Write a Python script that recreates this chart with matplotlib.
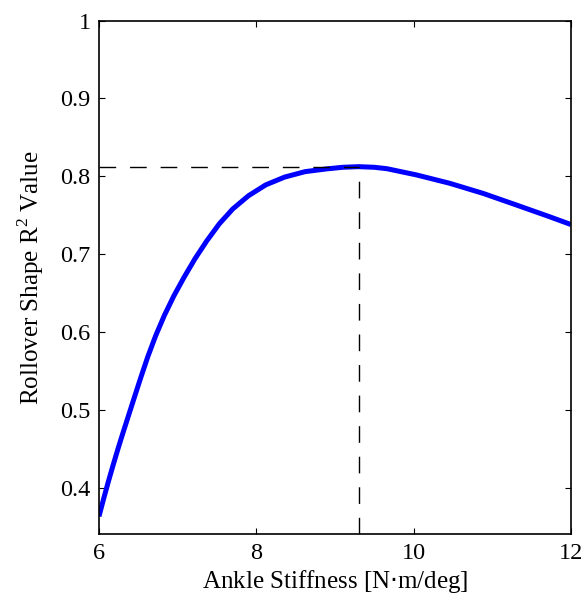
import matplotlib
matplotlib.use('Agg')
import matplotlib.pyplot as plt

# values
stiffness = [6.00, 6.06, 6.12, 6.18, 6.245, 6.31, 6.38, 6.45, 6.53, 6.62, 6.72, 6.83,
             6.95, 7.08, 7.22, 7.37, 7.53, 7.70, 7.90, 8.12, 8.36, 8.62, 8.90, 9.10,
             9.30, 9.50, 9.66, 10.04, 10.46, 10.885, 11.31, 11.73, 12.00]
r2_value = [0.363, 0.386, 0.408, 0.429, 0.451, 0.472, 0.494, 0.516, 0.541, 0.568, 0.595, 0.621,
            0.646, 0.670, 0.694, 0.717, 0.739, 0.758, 0.775, 0.789, 0.799, 0.806, 0.8096, 0.8116,
            0.8124, 0.8116, 0.8098, 0.8017, 0.791, 0.778, 0.763, 0.748, 0.738]
peak_x = 9.30
peak_y = 0.8124

x_ticks = [6, 8, 10, 12]
y_ticks = [0.4, 0.5, 0.6, 0.7, 0.8, 0.9, 1.0]
y_tick_labels = ['0.4', '0.5', '0.6', '0.7', '0.8', '0.9', '1']

plt.rcParams['font.family'] = ['Liberation Serif', 'DejaVu Serif']
plt.rcParams['font.size'] = 18

fig = plt.figure(figsize=(5.85, 6.01), dpi=100)
ax = fig.add_axes([0.1692, 0.111, 0.8068, 0.8546])

# curve
ax.plot(stiffness, r2_value, color=(0, 0, 1), linewidth=3.6,
        solid_capstyle='butt', solid_joinstyle='round')

# dashed guide lines to the peak
ax.plot([6, peak_x], [peak_y, peak_y], color='black', linewidth=1.0, dashes=(12, 10))
ax.plot([peak_x, peak_x], [0.34, peak_y], color='black', linewidth=1.0, dashes=(12, 10))

ax.set_xlim(6, 12)
ax.set_ylim(0.34, 1.0)
ax.set_xticks(x_ticks)
ax.set_yticks(y_ticks)
ax.set_yticklabels(y_tick_labels)
ax.tick_params(direction='in', length=4, width=0.8, top=True, right=True,
               pad=6, labelsize=17.5)
for sp in ax.spines.values():
    sp.set_linewidth(1.2)

ax.set_xlabel('Ankle Stiffness [N$\\cdot$m/deg]', labelpad=3)
ax.set_ylabel('Rollover Shape R$^\\mathregular{2}$ Value', labelpad=10)

fig.savefig('out.png', dpi=100)
